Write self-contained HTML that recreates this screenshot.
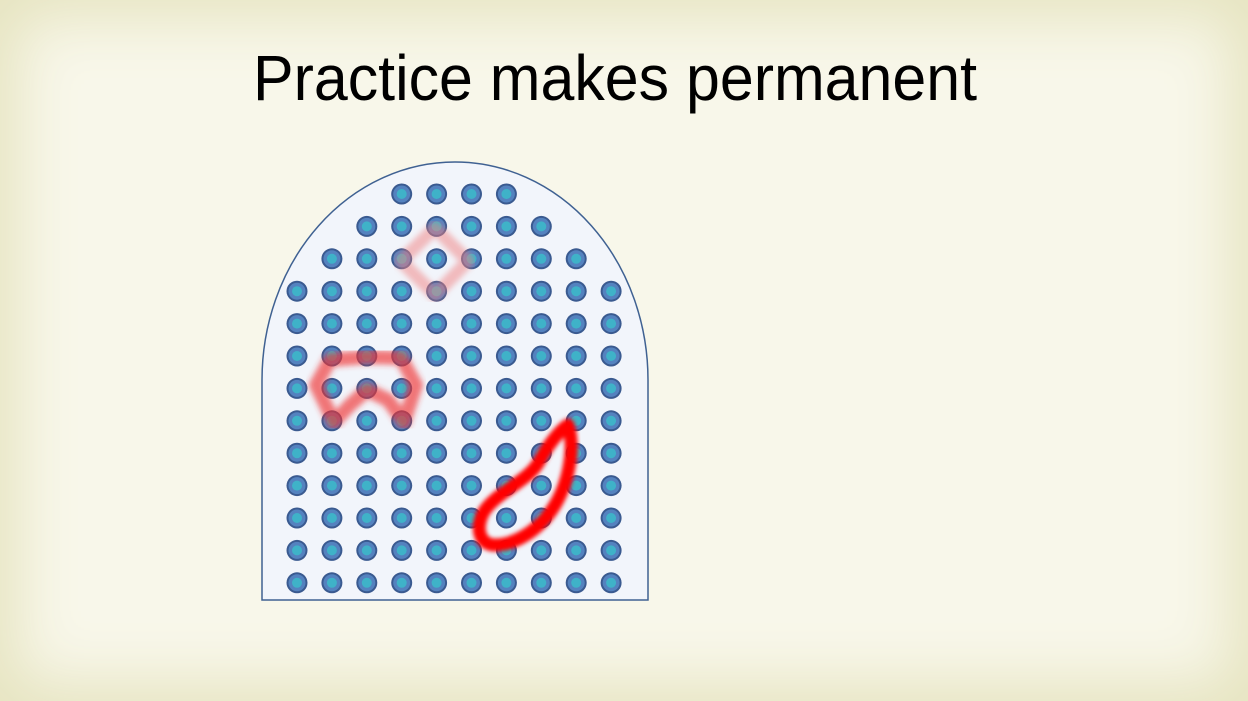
<!DOCTYPE html>
<html><head><meta charset="utf-8"><style>
html,body{margin:0;padding:0;}
body{width:1248px;height:701px;overflow:hidden;background:#f8f7ea;font-family:"Liberation Sans",sans-serif;}
#vig{position:absolute;left:0;top:0;width:1248px;height:701px;box-shadow:inset 0 0 60px 18px #e6e4c0;pointer-events:none;}
</style></head><body>
<div id="vig"></div>
<svg style="position:absolute;left:0;top:0" width="1248" height="701" viewBox="0 0 1248 701" xmlns="http://www.w3.org/2000/svg">
<defs>
<filter id="b1"><feGaussianBlur stdDeviation="3"/></filter>
<filter id="b2"><feGaussianBlur stdDeviation="2"/></filter>
</defs>
<text x="253" y="100" textLength="724" lengthAdjust="spacingAndGlyphs" font-size="64" fill="#000" font-family="'Liberation Sans',sans-serif">Practice makes permanent</text>
<path d="M262,600 L262,380 A193,218 0 0 1 648,380 L648,600 Z" fill="#f2f5fb" stroke="#3f6192" stroke-width="1.5"/>
<g id="dots"></g>
<path d="M401,261 L435,228 L468,261 L435,295 Z" fill="none" stroke="#f08080" stroke-opacity="0.5" stroke-width="13" stroke-linejoin="round" filter="url(#b1)"/>
<path d="M334,422 L316,385 L330,360 L367,357 L401,358 L416,385 L404,422 L388,400 L367,390 L350,405 Z" fill="none" stroke="#f03030" stroke-opacity="0.65" stroke-width="14" stroke-linejoin="round" filter="url(#b1)"/>
<path d="M568,425 C575,445 570,480 555,505 C540,530 515,545 495,545 C478,545 475,525 485,510 C500,490 530,480 540,460 C548,445 560,430 568,425 Z" fill="none" stroke="#ff0000" stroke-width="13" stroke-linejoin="round" filter="url(#b2)"/>
</svg>
<script>
const rowStart=[3,2,1,0,0,0,0,0,0,0,0,0,0];
const rowEnd=[6,7,8,9,9,9,9,9,9,9,9,9,9];
const g=document.getElementById('dots');
const ns='http://www.w3.org/2000/svg';
for(let r=0;r<rowStart.length;r++){
  for(let c=rowStart[r];c<=rowEnd[r];c++){
    const x=297+c*34.9, y=194+r*32.4;
    const grp=document.createElementNS(ns,'g');
    
    
    [[10.5,'#3a5a90'],[8.5,'#5482bf'],[5,'#3fb2c8']].forEach(([rad,col])=>{
      const ci=document.createElementNS(ns,'circle');
      ci.setAttribute('cx',x);ci.setAttribute('cy',y);ci.setAttribute('r',rad);ci.setAttribute('fill',col);
      grp.appendChild(ci);
    });
    g.appendChild(grp);
  }
}
</script>
</body></html>
